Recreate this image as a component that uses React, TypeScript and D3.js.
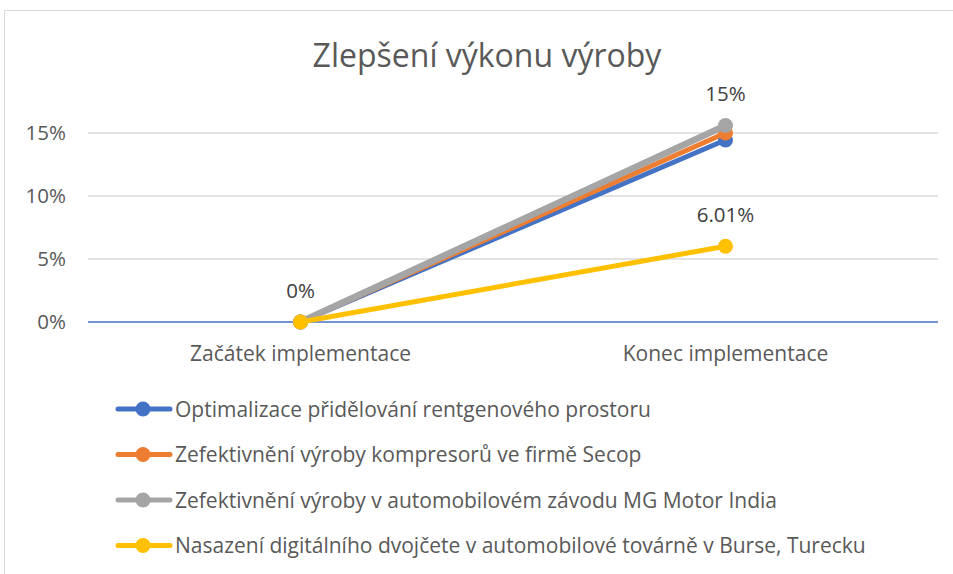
import React from "react";
import * as d3 from "d3";

const title = "Zlepšení výkonu výroby";
const categories = ["Začátek implementace", "Konec implementace"];
const seriesNames = [
  "Optimalizace přidělování rentgenového prostoru",
  "Zefektivnění výroby kompresorů ve firmě Secop",
  "Zefektivnění výroby v automobilovém závodu MG Motor India",
  "Nasazení digitálního dvojčete v automobilové továrně v Burse, Turecku",
];
const seriesColors = ["#4472C4", "#ED7D31", "#A5A5A5", "#FFC000"];
const seriesValues = [
  [0, 0.1445],
  [0, 0.15],
  [0, 0.156],
  [0, 0.0601],
];
// labels shown: [seriesIndex, pointIndex, text]
const dataLabels: [number, number, string][] = [
  [2, 0, "0%"],
  [2, 1, "15%"],
  [3, 1, "6.01%"],
];
const yTicks = [0, 0.05, 0.1, 0.15];

const W = 953;
const H = 574;
const font = "'Open Sans', sans-serif";

export default function App() {
  const left = 88, right = 938;
  const x = d3.scaleBand<string>().domain(categories).range([left, right]);
  const y = d3.scaleLinear().domain([0, 0.15]).range([322, 133]);
  const fmt = d3.format(".0%");
  const cx = (c: string) => (x(c) ?? 0) + x.bandwidth() / 2;
  const line = d3
    .line<number>()
    .x((_, i) => cx(categories[i]))
    .y((d) => y(d));

  return (
    <svg
      width={W}
      height={H}
      style={{ position: "absolute", left: 0, top: 0, background: "#fff" }}
    >
      <rect x={4.5} y={10.5} width={980} height={600} fill="#fff" stroke="#D9D9D9" />
      <text
        x={487}
        y={67}
        textAnchor="middle"
        fontFamily={font}
        fontSize={32}
        fill="#595959"
      >
        {title}
      </text>
      {yTicks.map((t) => (
        <g key={t}>
          {t !== 0 && (
            <line x1={left} x2={right} y1={y(t)} y2={y(t)} stroke="#D9D9D9" strokeWidth={1.3} />
          )}
          <text
            x={66}
            y={y(t) + 7}
            textAnchor="end"
            fontFamily={font}
            fontSize={20.5}
            fill="#595959"
          >
            {fmt(t)}
          </text>
        </g>
      ))}
      <line x1={left} x2={right} y1={y(0)} y2={y(0)} stroke="#4472C4" strokeWidth={1.3} />
      {categories.map((c) => (
        <text
          key={c}
          x={cx(c)}
          y={361}
          textAnchor="middle"
          fontFamily={font}
          fontSize={21}
          fill="#595959"
        >
          {c}
        </text>
      ))}
      {seriesValues.map((vals, si) => (
        <g key={si}>
          <path
            d={line(vals) ?? ""}
            fill="none"
            stroke={seriesColors[si]}
            strokeWidth={si === 2 ? 6.5 : 5}
            strokeLinecap="round"
          />
          {vals.map((v, i) => (
            <circle key={i} cx={cx(categories[i])} cy={y(v)} r={7.5} fill={seriesColors[si]} />
          ))}
        </g>
      ))}
      {dataLabels.map(([si, pi, t]) => (
        <text
          key={si + "-" + pi}
          x={cx(categories[pi])}
          y={y(seriesValues[si][pi]) - 24}
          textAnchor="middle"
          fontFamily={font}
          fontSize={20.5}
          fill="#404040"
        >
          {t}
        </text>
      ))}
      {seriesNames.map((n, i) => {
        const ly = 409 + i * 45.5;
        return (
          <g key={n}>
            <line x1={118} x2={170} y1={ly} y2={ly} stroke={seriesColors[i]} strokeWidth={5} strokeLinecap="round" />
            <circle cx={143} cy={ly} r={7.5} fill={seriesColors[i]} />
            <text x={175} y={ly + 7.5} fontFamily={font} fontSize={21} fill="#595959">
              {n}
            </text>
          </g>
        );
      })}
    </svg>
  );
}
